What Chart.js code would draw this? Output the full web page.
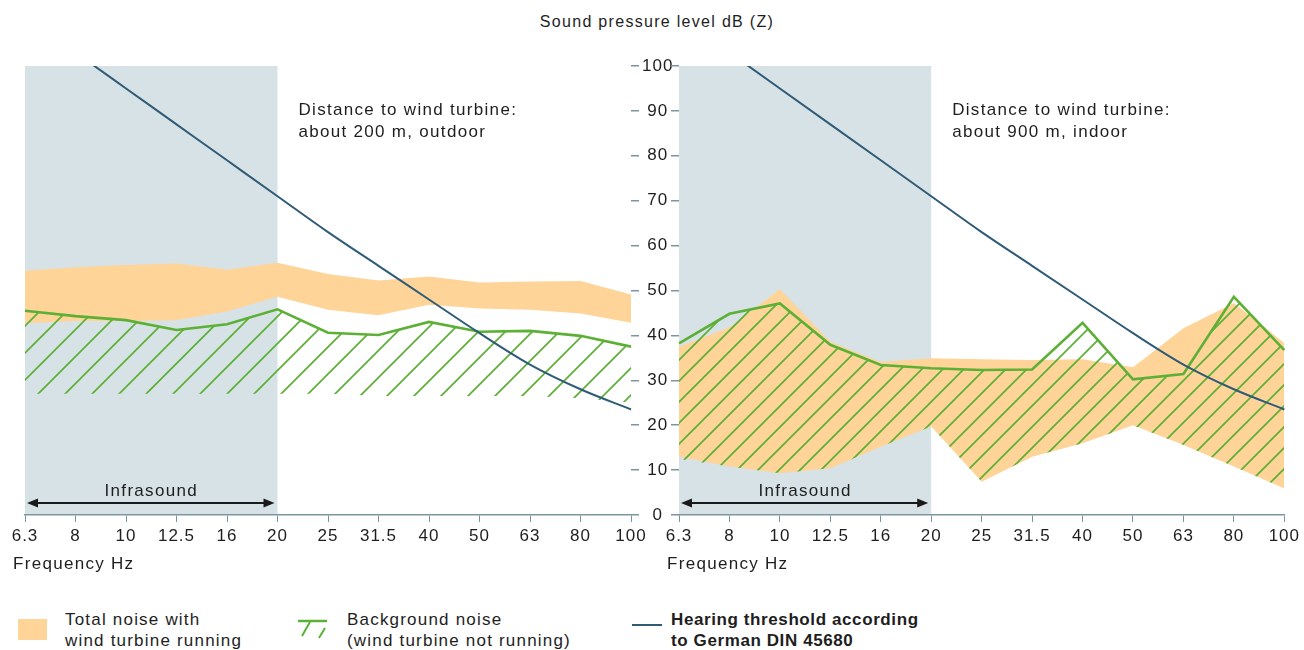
<!DOCTYPE html>
<html><head><meta charset="utf-8">
<script src="https://cdn.jsdelivr.net/npm/chart.js@4/dist/chart.umd.min.js"></script>
<style>
html,body{margin:0;padding:0;background:#fff;width:1304px;height:650px;overflow:hidden;position:relative;font-family:'Liberation Sans',Arial,Helvetica,sans-serif;color:#1e1e1e}
canvas{position:absolute;top:0}
#cL{left:0}
#cR{left:640px}
.title{position:absolute;top:12px;left:457px;width:400px;text-align:center;font-size:16px;line-height:20px;letter-spacing:1.3px}
.lg{position:absolute}
.lt{position:absolute;font-size:17px;line-height:21px;letter-spacing:1.2px;white-space:nowrap}
.b{font-weight:bold;letter-spacing:0.6px}
</style></head>
<body>
<div class="title">Sound pressure level dB (Z)</div>
<canvas id="cL" width="680" height="580"></canvas>
<canvas id="cR" width="664" height="580"></canvas>

<div class="lg" style="left:18px;top:619px;width:29px;height:21px;background:#fed499"></div>
<div class="lt" style="left:65px;top:609px">Total noise with<br>wind turbine running</div>
<svg class="lg" style="left:296px;top:617px" width="34" height="26">
  <path d="M2 4 L31 4" stroke="#5cb035" stroke-width="2.5" fill="none"/>
  <path d="M14 5 L6 19" stroke="#5cb035" stroke-width="2" fill="none"/>
  <path d="M29 11 L23 21" stroke="#5cb035" stroke-width="2" fill="none"/>
</svg>
<div class="lt" style="left:347px;top:609px">Background noise<br>(wind turbine not running)</div>
<div class="lg" style="left:632px;top:624px;width:30px;height:2px;background:#2f5b77"></div>
<div class="lt b" style="left:671px;top:609px">Hearing threshold according<br>to German DIN 45680</div>

<script>
// ---- data ----
const frequencies = ['6.3','8','10','12.5','16','20','25','31.5','40','50','63','80','100'];
const yTicks = [0,10,20,30,40,50,60,70,80,90,100];
// hearing threshold DIN 45680 (dB)
const thresholdDIN = [null,103,95,87,79,71,63,55.5,48,40.5,33.5,28,23.5];
// left panel: about 200 m, outdoor
const outdoorTotalUpper = [54.4,55.2,55.7,56,54.6,56.2,53.7,52.2,53.1,51.8,52,52.1,49.1];
const outdoorTotalLower = [42.7,43.2,43.2,43.4,45.3,48.6,45.7,44.5,46.8,46,45.7,44.9,42.8];
const outdoorBackgroundUpper = [45.5,44.3,43.4,41.2,42.5,45.8,40.6,40.1,43,40.8,41,39.9,37.5];
const outdoorBackgroundLower = [27,27,27,27,27,27,27,26.5,26.5,26.5,26.5,26,25];
// right panel: about 900 m, indoor
const indoorTotalUpper = [37.5,41.8,50.3,38.6,34.1,34.9,34.7,34.5,34.7,32.9,41.6,47.2,38.3];
const indoorTotalLower = [13,10.8,9.3,10.4,15.2,19.7,7.4,13,16,20,15.6,10.8,5.9];
const indoorBackgroundUpper = [38.2,44.8,47.1,37.9,33.4,32.7,32.3,32.4,42.8,30.2,31.4,48.6,36.7];
const indoorBackgroundLower = [12.5,10.8,9.3,10.4,15.2,19.7,7.4,13,16,20,15.6,10.8,5.9];

// ---- styles ----
const ORANGE = '#fed499', GREEN = '#5cb035', BLUE = '#2f5b77', GREY = '#d7e2e6', AXIS = '#7d95a1', TXT = '#1e1e1e';
const FONT = "'Liberation Sans', Arial, Helvetica, sans-serif";

function hatch(s, color){
  const c = document.createElement('canvas'); c.width = s; c.height = s;
  const g = c.getContext('2d');
  g.strokeStyle = color; g.lineWidth = 1.7; g.lineCap = 'square';
  g.beginPath();
  g.moveTo(0, s); g.lineTo(s, 0);
  g.moveTo(-2, 2); g.lineTo(2, -2);
  g.moveTo(s-2, s+2); g.lineTo(s+2, s-2);
  g.stroke();
  return g.createPattern(c, 'repeat');
}

function deco(cfg){
  return {
    id: 'deco',
    beforeLayout(chart){ chart.ctx.letterSpacing = '1px'; },
    beforeDraw(chart){ chart.ctx.letterSpacing = '1px'; },
    beforeDatasetsDraw(chart){
      const {ctx, chartArea, scales:{x}} = chart;
      const x0 = x.getPixelForValue(0), x1 = x.getPixelForValue(5);
      ctx.save();
      ctx.fillStyle = GREY;
      ctx.fillRect(x0, chartArea.top, x1 - x0, chartArea.bottom - chartArea.top - 1);
      ctx.restore();
    },
    afterDatasetsDraw(chart){
      const {ctx, chartArea, scales:{x}} = chart;
      const x0 = x.getPixelForValue(0), x1 = x.getPixelForValue(5);
      ctx.save();
      ctx.letterSpacing = '1.3px';
      ctx.fillStyle = TXT;
      ctx.font = '17px ' + FONT;
      ctx.textBaseline = 'middle';
      ctx.textAlign = 'center';
      ctx.fillText('Infrasound', (x0 + x1) / 2, 491);
      // double-headed arrow
      const ay = 503, ax0 = x0 + 2, ax1 = x1 - 3;
      ctx.strokeStyle = '#1a1a1a'; ctx.lineWidth = 2.2;
      ctx.beginPath(); ctx.moveTo(ax0 + 6, ay); ctx.lineTo(ax1 - 6, ay); ctx.stroke();
      ctx.fillStyle = '#1a1a1a';
      ctx.beginPath(); ctx.moveTo(ax0, ay); ctx.lineTo(ax0 + 11, ay - 4.5); ctx.lineTo(ax0 + 11, ay + 4.5); ctx.closePath(); ctx.fill();
      ctx.beginPath(); ctx.moveTo(ax1, ay); ctx.lineTo(ax1 - 11, ay - 4.5); ctx.lineTo(ax1 - 11, ay + 4.5); ctx.closePath(); ctx.fill();
      // distance annotation
      ctx.fillStyle = TXT;
      ctx.textAlign = 'left';
      ctx.fillText('Distance to wind turbine:', x1 + 21, 110);
      ctx.fillText(cfg.distance, x1 + 21, 132);
      ctx.fillText('Frequency Hz', chartArea.left - 12, 564);
      ctx.restore();
    }
  };
}

function makeChart(id, cfg){
  const ctx = document.getElementById(id).getContext('2d');
  return new Chart(ctx, {
    type: 'line',
    data: {
      labels: frequencies,
      datasets: [
        { label: 'Hearing threshold', data: thresholdDIN, borderColor: BLUE, borderWidth: 2,
          pointRadius: 0, fill: false, cubicInterpolationMode: 'monotone' },
        { label: 'Background noise', data: cfg.bgUpper, borderColor: GREEN, borderWidth: 2.6,
          pointRadius: 0, fill: '+1', backgroundColor: hatch(cfg.hatch, GREEN), borderJoinStyle: 'miter' },
        { label: 'Background lower', data: cfg.bgLower, borderWidth: 0, borderColor: 'rgba(0,0,0,0)',
          pointRadius: 0, fill: false },
        { label: 'Total noise', data: cfg.totUpper, borderWidth: 0, borderColor: 'rgba(0,0,0,0)',
          pointRadius: 0, fill: '+1', backgroundColor: ORANGE },
        { label: 'Total lower', data: cfg.totLower, borderWidth: 0, borderColor: 'rgba(0,0,0,0)',
          pointRadius: 0, fill: false }
      ]
    },
    options: {
      responsive: false,
      animation: false,
      events: [],
      layout: { padding: cfg.padding },
      plugins: { legend: { display: false }, tooltip: { enabled: false }, title: { display: false } },
      scales: {
        x: {
          type: 'category',
          offset: false,
          grid: { display: true, drawOnChartArea: false, drawTicks: true, tickLength: 7, color: AXIS, lineWidth: 1 },
          border: { display: true, color: AXIS, width: 1.5 },
          ticks: { color: TXT, font: { family: FONT, size: 17 }, padding: 4, autoSkip: false, maxRotation: 0 },
          afterFit(s){ s.height = 65; }
        },
        y: {
          position: cfg.yPos,
          min: 0, max: 100,
          afterBuildTicks(s){ s.ticks = yTicks.map(v => ({ value: v })); },
          grid: { display: true, drawOnChartArea: false, drawTicks: true, tickLength: 8, color: AXIS, lineWidth: 1.5 },
          border: { display: false },
          ticks: { display: cfg.yLabels, color: TXT, font: { family: FONT, size: 17 }, padding: 3, crossAlign: 'center' },
          afterFit(s){ s.width = cfg.yWidth; }
        }
      }
    },
    plugins: [deco(cfg)]
  });
}

makeChart('cL', {
  totUpper: outdoorTotalUpper, totLower: outdoorTotalLower,
  bgUpper: outdoorBackgroundUpper, bgLower: outdoorBackgroundLower,
  hatch: 27, distance: 'about 200 m, outdoor',
  yPos: 'right', yLabels: true, yWidth: 49,
  padding: { left: 25, right: 0, top: 66, bottom: 0 }
});
makeChart('cR', {
  totUpper: indoorTotalUpper, totLower: indoorTotalLower,
  bgUpper: indoorBackgroundUpper, bgLower: indoorBackgroundLower,
  hatch: 21, distance: 'about 900 m, indoor',
  yPos: 'left', yLabels: false, yWidth: 39,
  padding: { left: 0, right: 18, top: 66, bottom: 0 }
});
</script>
</body></html>
